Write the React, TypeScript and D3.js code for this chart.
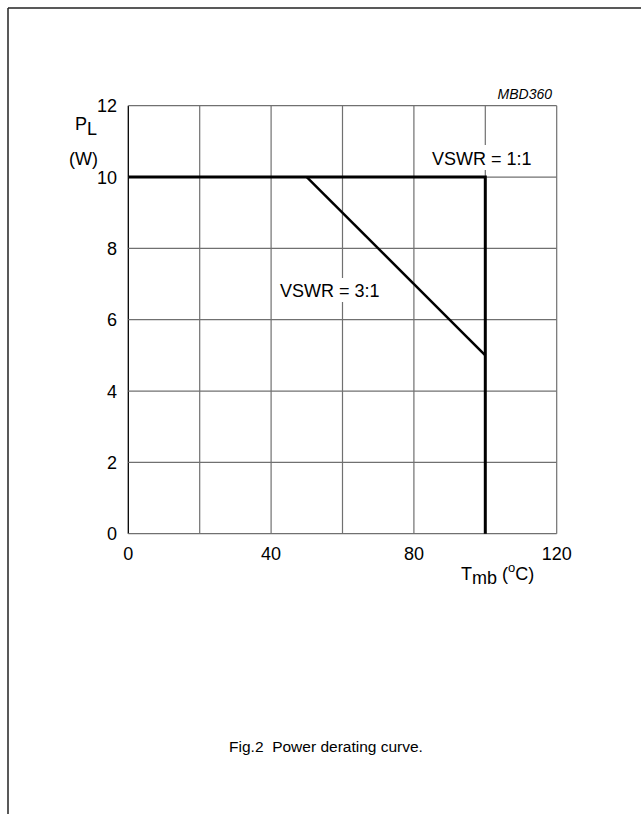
import React from "react";
import * as d3 from "d3";

// chart values
const xTicks = [0, 40, 80, 120];
const xGrid = [0, 20, 40, 60, 80, 100, 120];
const yTicks = [0, 2, 4, 6, 8, 10, 12];
const vswr11 = [
  [0, 10],
  [100, 10],
  [100, 0],
];
const vswr31 = [
  [50, 10],
  [100, 5],
];

const W = 641;
const H = 814;
const font = "'Liberation Sans', Arial, Helvetica, sans-serif";

const App = () => {
  const x = d3.scaleLinear().domain([0, 120]).range([128.3, 556.7]);
  const y = d3.scaleLinear().domain([0, 12]).range([533.7, 105.7]);

  const line = d3
    .line<number[]>()
    .x((d) => x(d[0]))
    .y((d) => y(d[1]));

  const grid = "#707070";

  return (
    <svg
      width={W}
      height={H}
      style={{ position: "absolute", left: 0, top: 0, background: "#fff" }}
      fontFamily={font}
    >
      {/* page frame */}
      <line x1={8} y1={8} x2={W} y2={8} stroke="#222" strokeWidth={1.5} />
      <line x1={8} y1={8} x2={8} y2={H} stroke="#222" strokeWidth={1.5} />

      {/* grid */}
      {xGrid.map((v) => (
        <line
          key={"gx" + v}
          x1={x(v)}
          x2={x(v)}
          y1={y(0)}
          y2={y(12)}
          stroke={v === 0 ? "#000" : grid}
          strokeWidth={v === 0 ? 1.3 : 1.2}
        />
      ))}
      {yTicks.map((v) => (
        <line
          key={"gy" + v}
          x1={x(0)}
          x2={x(120)}
          y1={y(v)}
          y2={y(v)}
          stroke={grid}
          strokeWidth={1.2}
        />
      ))}

      {/* tick labels */}
      {yTicks.map((v) => (
        <text
          key={"ty" + v}
          x={117}
          y={y(v) + 6.5}
          fontSize={18}
          textAnchor="end"
        >
          {v}
        </text>
      ))}
      {xTicks.map((v) => (
        <text
          key={"tx" + v}
          x={x(v)}
          y={560}
          fontSize={18}
          textAnchor="middle"
        >
          {v}
        </text>
      ))}

      {/* axis titles */}
      <text x={75} y={130} fontSize={18}>
        P<tspan dy={5}>L</tspan>
      </text>
      <text x={69} y={165} fontSize={18}>
        (W)
      </text>
      <text x={461} y={580} fontSize={18}>
        T<tspan dy={4}>mb</tspan>
        <tspan dy={-4}> (</tspan>
        <tspan fontSize={13} dy={-8}>o</tspan>
        <tspan dy={8}>C)</tspan>
      </text>
      <text x={552} y={99} fontSize={14} fontStyle="italic" textAnchor="end">
        MBD360
      </text>

      {/* curve labels */}
      <rect x={430} y={145} width={106} height={25} fill="#fff" />
      <text x={432} y={165} fontSize={18}>
        VSWR = 1:1
      </text>
      <rect x={278} y={278} width={104} height={24} fill="#fff" />
      <text x={280} y={297} fontSize={18}>
        VSWR = 3:1
      </text>

      {/* curves */}
      <path d={line(vswr11) || ""} fill="none" stroke="#000" strokeWidth={3} />
      <path d={line(vswr31) || ""} fill="none" stroke="#000" strokeWidth={2.5} />

      {/* caption */}
      <text x={326} y={752} fontSize={15.5} textAnchor="middle" xmlSpace="preserve">
        {"Fig.2  Power derating curve."}
      </text>
    </svg>
  );
};

export default App;
